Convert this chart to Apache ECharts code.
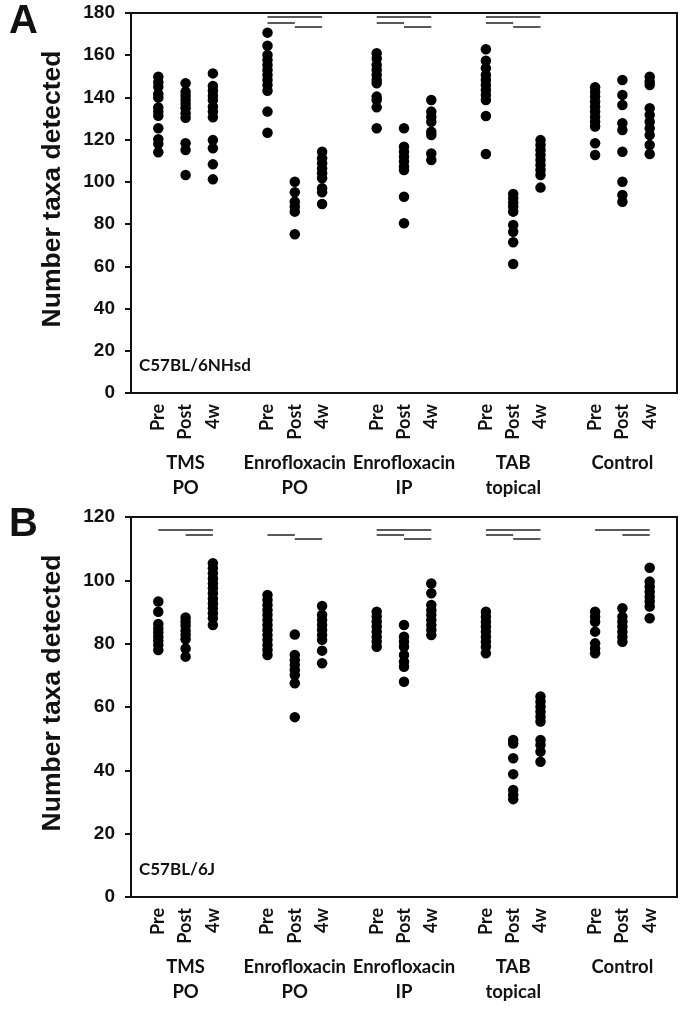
<!DOCTYPE html>
<html>
<head>
<meta charset="utf-8">
<script src="https://cdn.jsdelivr.net/npm/echarts@6/dist/echarts.min.js"></script>
<style>html,body{margin:0;padding:0;background:#fff;}#c{width:685px;height:1011px;}</style>
</head>
<body>
<div id="c"></div>
<script>
// ---- categories ----
const groups = ['TMS\nPO', 'Enrofloxacin\nPO', 'Enrofloxacin\nIP', 'TAB\ntopical', 'Control'];
const timepoints = ['Pre', 'Post', '4w'];
const yTicksA = [0, 20, 40, 60, 80, 100, 120, 140, 160, 180];
const yTicksB = [0, 20, 40, 60, 80, 100, 120];

// ---- Panel A (C57BL/6NHsd): values per group, [Pre, Post, 4w] ----
const a_tms = [[149.8,147.2,145.1,141.6,139.9,135.2,133.3,131.3,125.4,120.2,118.0,114.0],
               [146.7,142.7,140.8,138.8,136.9,134.9,132.5,130.4,118.3,115.1,103.3],
               [151.4,145.4,143.2,140.8,138.8,135.6,133.3,130.6,119.8,115.9,108.3,101.2]];
const a_enroPO = [[170.7,164.5,160.1,157.7,155.4,153.0,150.6,148.3,145.9,143.2,133.3,123.3],
                  [100.1,95.1,90.6,88.3,85.9,75.2],
                  [114.3,111.2,108.8,106.4,104.1,101.7,97.0,95.1,89.5]];
const a_enroIP = [[160.9,158.5,155.4,153.0,150.6,148.3,146.7,140.4,138.8,135.3,125.4],
                  [125.4,116.7,114.3,111.9,109.6,107.2,105.6,93.0,80.4],
                  [138.8,133.3,130.9,128.5,123.8,122.2,113.5,110.4]];
const a_tab = [[162.8,157.4,153.8,150.6,148.3,145.9,143.5,141.2,138.8,131.2,113.2],
               [94.3,92.2,90.1,88.3,85.9,79.6,76.4,71.4,61.1],
               [119.8,117.5,115.1,112.7,110.4,108.0,105.6,103.3,97.3]];
const a_ctrl = [[144.8,142.7,140.4,138.0,135.6,133.3,130.9,128.5,126.2,118.3,112.7],
                [148.3,141.2,136.4,127.8,124.6,114.3,100.1,93.8,90.6],
                [149.8,147.5,145.9,134.9,131.7,128.5,125.4,122.2,117.5,113.2]];

// ---- Panel B (C57BL/6J) ----
const b_tms = [[93.3,90.1,86.2,84.8,83.5,82.2,80.9,79.6,78.0],
               [88.3,86.9,85.6,84.1,82.7,81.4,78.5,75.9],
               [105.4,103.8,102.2,100.6,99.0,97.5,95.9,94.3,92.7,91.2,89.6,88.0,85.9]];
const b_enroPO = [[95.4,93.8,92.2,90.6,89.1,87.5,85.9,84.3,82.7,81.2,79.6,78.0,76.4],
                  [82.9,76.4,74.8,73.3,71.7,70.1,67.5,56.8],
                  [91.9,89.1,87.5,85.9,84.3,82.7,81.2,77.8,73.8]];
const b_enroIP = [[90.1,88.5,86.9,85.4,83.8,82.2,80.6,79.0],
                  [85.9,82.2,80.6,79.0,76.4,74.3,72.7,68.0],
                  [99.0,95.9,92.2,90.6,89.1,87.5,85.9,84.3,82.7]];
const b_tab = [[90.1,88.5,86.9,85.4,83.8,82.2,80.6,79.0,77.0],
               [49.6,48.5,43.8,38.8,33.8,32.2,30.9],
               [63.3,61.7,60.1,58.5,56.9,55.4,49.6,48.0,45.9,42.7]];
const b_ctrl = [[90.1,88.5,86.9,83.8,80.1,78.5,77.0],
                [91.2,88.5,86.9,85.4,83.8,82.2,80.6],
                [104.0,99.6,98.0,96.4,94.8,93.3,91.7,88.0]];

// ---- significance comparisons: [group, fromTimepoint, toTimepoint, level] ----
const sigA = [[1,0,2,0],[1,0,1,1],[1,1,2,2],
              [2,0,2,0],[2,0,1,1],[2,1,2,2],
              [3,0,2,0],[3,0,1,1],[3,1,2,2]];
const sigB = [[0,0,2,0],[0,1,2,1],
              [1,0,1,1],[1,1,2,2],
              [2,0,2,0],[2,0,1,1],[2,1,2,2],
              [3,0,2,0],[3,0,1,1],[3,1,2,2],
              [4,0,2,0],[4,1,2,1]];
const sigLevelsA = [178.3, 175.4, 173.5];
const sigLevelsB = [115.9, 114.3, 113.0];

const strainA = 'C57BL/6NHsd';
const strainB = 'C57BL/6J';

// ---- build ----
const posOf = (g, t) => g * 4 + t + 1;
const tickLabel = {};
const groupLabel = {};
groups.forEach((gName, g) => {
  groupLabel[posOf(g, 1)] = gName;
  timepoints.forEach((tp, t) => { tickLabel[posOf(g, t)] = tp; });
});

function points(panel) {
  const out = [];
  panel.forEach((grp, g) => grp.forEach((vals, t) => vals.forEach(v => out.push([posOf(g, t), v]))));
  return out;
}
function sigLines(sig, levels) {
  return sig.map(([g, a, b, l]) => ({ coords: [[posOf(g, a), levels[l]], [posOf(g, b), levels[l]]] }));
}
const panelA = [a_tms, a_enroPO, a_enroIP, a_tab, a_ctrl];
const panelB = [b_tms, b_enroPO, b_enroIP, b_tab, b_ctrl];

const catFont = 'Lato';
const numFont = 'Liberation Sans';

function xAxes(gi) {
  return [{
    type: 'value', gridIndex: gi, min: 0, max: 20, interval: 1,
    axisLine: { show: true, lineStyle: { color: '#111', width: 2 } },
    axisTick: { show: false }, splitLine: { show: false },
    axisLabel: { rotate: 90, margin: 11, fontFamily: catFont, fontWeight: 'bold', fontSize: 18, color: '#111',
      formatter: v => tickLabel[v] || '' }
  }, {
    type: 'value', gridIndex: gi, min: 0, max: 20, interval: 1, position: 'bottom',
    axisLine: { show: false }, axisTick: { show: false }, splitLine: { show: false },
    axisLabel: { margin: 58, fontFamily: catFont, fontWeight: 'bold', fontSize: 18.5, lineHeight: 25, color: '#111',
      verticalAlign: 'top', formatter: v => groupLabel[v] || '' }
  }];
}
function yAxis(gi, max) {
  return {
    type: 'value', gridIndex: gi, min: 0, max: max, interval: 20,
    name: 'Number taxa detected', nameLocation: 'middle', nameGap: 65,
    nameTextStyle: { fontFamily: numFont, fontWeight: 'bold', fontSize: 26.5, color: '#111', padding: [0, 0, 0, 28] },
    axisLine: { show: true, lineStyle: { color: '#111', width: 2 } },
    axisTick: { show: true, inside: false, length: 6, lineStyle: { color: '#111', width: 2 } },
    splitLine: { show: false },
    axisLabel: { margin: 16, fontFamily: numFont, fontWeight: 'bold', fontSize: 19, color: '#111' }
  };
}

const option = {
  animation: false,
  backgroundColor: '#fff',
  grid: [
    { left: 131, top: 13, width: 546, height: 380, show: true, borderColor: '#111', borderWidth: 2, backgroundColor: 'transparent' },
    { left: 131, top: 517, width: 546, height: 380, show: true, borderColor: '#111', borderWidth: 2, backgroundColor: 'transparent' }
  ],
  xAxis: [...xAxes(0), ...xAxes(1)],
  yAxis: [yAxis(0, 180), yAxis(1, 120)],
  graphic: [
    { type: 'text', left: 9, top: 2, style: { text: 'A', font: 'bold 40px "Liberation Sans"', fill: '#111' } },
    { type: 'text', left: 9, top: 505, style: { text: 'B', font: 'bold 40px "Liberation Sans"', fill: '#111' } },
    { type: 'text', left: 139, top: 357, style: { text: strainA, font: 'bold 17px Lato', fill: '#111' } },
    { type: 'text', left: 139, top: 861, style: { text: strainB, font: 'bold 17px Lato', fill: '#111' } }
  ],
  series: [
    { type: 'scatter', xAxisIndex: 0, yAxisIndex: 0, data: points(panelA), symbolSize: 10.5, itemStyle: { color: '#000', opacity: 1 } },
    { type: 'scatter', xAxisIndex: 2, yAxisIndex: 1, data: points(panelB), symbolSize: 10.5, itemStyle: { color: '#000', opacity: 1 } },
    { type: 'lines', coordinateSystem: 'cartesian2d', xAxisIndex: 0, yAxisIndex: 0, data: sigLines(sigA, sigLevelsA),
      lineStyle: { color: '#222', width: 1.6, opacity: 1 }, symbol: 'none' },
    { type: 'lines', coordinateSystem: 'cartesian2d', xAxisIndex: 2, yAxisIndex: 1, data: sigLines(sigB, sigLevelsB),
      lineStyle: { color: '#222', width: 1.6, opacity: 1 }, symbol: 'none' }
  ]
};
const chart = echarts.init(document.getElementById('c'), null, { renderer: 'canvas' });
chart.setOption(option);
</script>
</body>
</html>
